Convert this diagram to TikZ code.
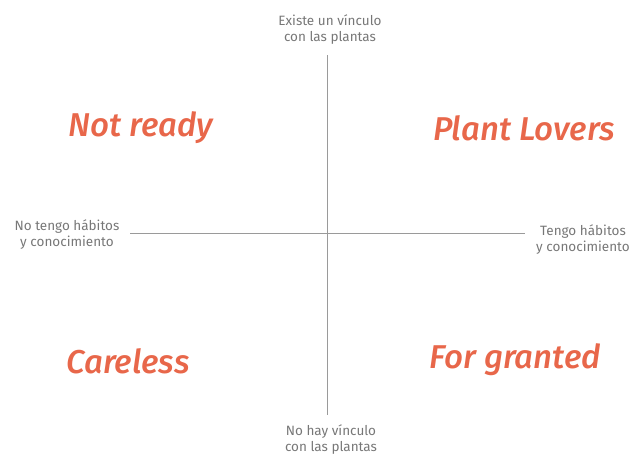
\documentclass[tikz,border=0pt]{standalone}
\usepackage{fontspec}
\setmainfont{Fira Sans}
\newfontfamily\quadfont{FiraSans-MediumItalic}
\usepackage{xcolor}
\usetikzlibrary{positioning}
\definecolor{quadorange}{HTML}{E8674A}
\definecolor{axisgray}{HTML}{9A9A9A}
\definecolor{textgray}{HTML}{777777}

\begin{document}
\begin{tikzpicture}[x=1pt,y=-1pt,
    axislabel/.style={text=textgray, align=center, font=\fontsize{13.5}{16}\selectfont, inner sep=0pt},
    quadlabel/.style={text=quadorange, font=\fontsize{33}{38}\selectfont\quadfont, inner sep=0pt},
    axisline/.style={draw=axisgray, line width=0.9pt}]
    \useasboundingbox (0,0) rectangle (635,455);

    % Axis ends
    \coordinate (north) at (327,55);
    \coordinate (south) at (327,415);
    \coordinate (west) at (130,233);
    \coordinate (east) at (525,233);

    % Axes
    \draw[axisline] (north) -- (south);
    \draw[axisline] (west) -- (east);

    % Axis labels
    \node[axislabel] (toplabel) at (330,30) {Existe un vínculo\\con las plantas};
    \node[axislabel] (bottomlabel) at (331,440) {No hay vínculo\\con las plantas};
    \node[axislabel] (leftlabel) at (67,235) {No tengo hábitos\\y conocimiento};
    \node[axislabel] (rightlabel) at (583,240) {Tengo hábitos\\y conocimiento};

    % Quadrants
    \node[quadlabel] (notready) at (141,128) {Not ready};
    \node[quadlabel] (plantlovers) at (524,128) {Plant Lovers};
    \node[quadlabel] (careless) at (128,361) {Careless};
    \node[quadlabel] (forgranted) at (515,360) {For granted};
\end{tikzpicture}
\end{document}
